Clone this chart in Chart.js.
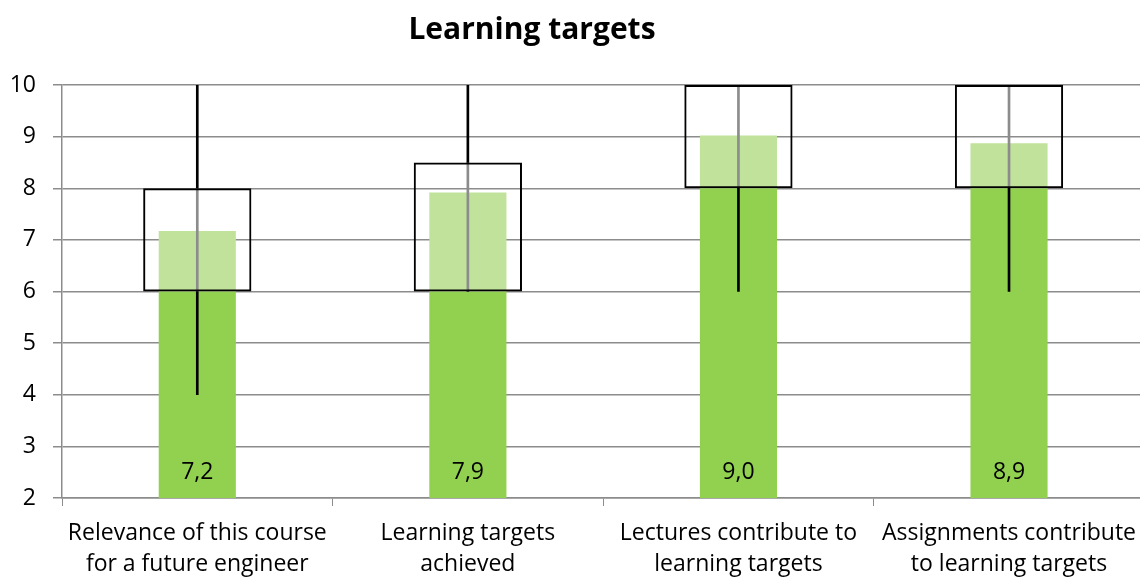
<!DOCTYPE html>
<html>
<head>
<meta charset="utf-8">
<script src="https://cdn.jsdelivr.net/npm/chart.js@4"></script>
<style>
  html, body { margin: 0; padding: 0; background: #fff; overflow: hidden; }
  #wrap { width: 1148px; height: 577px; }
</style>
</head>
<body>
<div id="wrap"><canvas id="chart"></canvas></div>
<script>
const titleText = 'Learning targets';
const categories = [
  ['Relevance of this course', 'for a future engineer'],
  ['Learning targets', 'achieved'],
  ['Lectures contribute to', 'learning targets'],
  ['Assignments contribute', 'to learning targets']
];
const means = [7.17, 7.92, 9.02, 8.87];
const q1 = [6, 6, 8, 8];
const q3 = [8, 8.5, 10, 10];
const mins = [4, 6, 6, 6];
const maxs = [10, 10, 10, 10];
const yTicks = [2, 3, 4, 5, 6, 7, 8, 9, 10];

const axisMin = yTicks[0];
const fontFam = '"Open Sans", "DejaVu Sans", sans-serif';
const gray = '#8c8c8c';

// bars: dark part up to the box bottom, light part from there to the mean
const darkPart = q1.map((v) => [axisMin, v]);
const lightPart = q1.map((v, i) => [v, means[i]]);
const boxPart = q1.map((v, i) => [v, q3[i]]);
const lowWhisker = mins.map((v, i) => [v, q1[i]]);
const highWhisker = maxs.map((v, i) => [q3[i], v]);

const valueLabels = {
  id: 'valueLabels',
  afterDatasetsDraw(chart) {
    const ctx = chart.ctx;
    const meta = chart.getDatasetMeta(0);
    const y = chart.scales.y.getPixelForValue(2.5);
    ctx.save();
    ctx.font = '23px ' + fontFam;
    ctx.fillStyle = '#000';
    ctx.textAlign = 'center';
    ctx.textBaseline = 'middle';
    meta.data.forEach((bar, i) => {
      ctx.fillText(means[i].toFixed(1).replace('.', ','), bar.x, y);
    });
    ctx.restore();
  }
};

const titlePlugin = {
  id: 'titlePlugin',
  afterDraw(chart) {
    const ctx = chart.ctx;
    ctx.save();
    ctx.font = 'bold 30px ' + fontFam;
    ctx.fillStyle = '#000';
    ctx.textAlign = 'center';
    ctx.textBaseline = 'middle';
    ctx.fillText(titleText, chart.width * 0.4634, 30);
    ctx.restore();
  }
};

new Chart(document.getElementById('chart'), {
  type: 'bar',
  data: {
    labels: categories,
    datasets: [
      { data: darkPart, backgroundColor: '#92D050', barPercentage: 0.285, categoryPercentage: 1, grouped: false, order: 6 },
      { data: lightPart, backgroundColor: '#C0E29A', barPercentage: 0.285, categoryPercentage: 1, grouped: false, order: 5 },
      { data: boxPart, backgroundColor: gray, barThickness: 2, grouped: false, order: 4 },
      { data: lowWhisker, backgroundColor: '#000', barThickness: 2, grouped: false, order: 3 },
      { data: highWhisker, backgroundColor: '#000', barThickness: 2, grouped: false, order: 2 },
      { data: boxPart, backgroundColor: 'rgba(0,0,0,0)', borderColor: '#000', borderWidth: 2,
        borderSkipped: false, barPercentage: 0.4, categoryPercentage: 1, grouped: false, order: 1 }
    ]
  },
  options: {
    responsive: true,
    maintainAspectRatio: false,
    animation: false,
    layout: { padding: { top: 85, left: 0, right: 0, bottom: 0 } },
    plugins: {
      legend: { display: false },
      tooltip: { enabled: false },
      title: { display: false }
    },
    scales: {
      x: {
        afterFit: (scale) => { scale.height = 79; },
        grid: { drawOnChartArea: false, drawTicks: true, tickLength: 8, color: gray, offset: true },
        border: { display: true, color: gray, width: 1.5 },
        ticks: { color: '#000', font: { family: fontFam, size: 23, lineHeight: 1.35 }, padding: 12, maxRotation: 0, autoSkip: false }
      },
      y: {
        min: axisMin,
        max: yTicks[yTicks.length - 1],
        afterFit: (scale) => { scale.width = 62; },
        afterBuildTicks: (scale) => { scale.ticks = yTicks.map((v) => ({ value: v })); },
        grid: { color: gray, lineWidth: 1.5, tickLength: 9 },
        border: { display: true, color: gray, width: 1.5 },
        ticks: { color: '#000', font: { family: fontFam, size: 23 }, padding: 17 }
      }
    }
  },
  plugins: [valueLabels, titlePlugin]
});
</script>
</body>
</html>
